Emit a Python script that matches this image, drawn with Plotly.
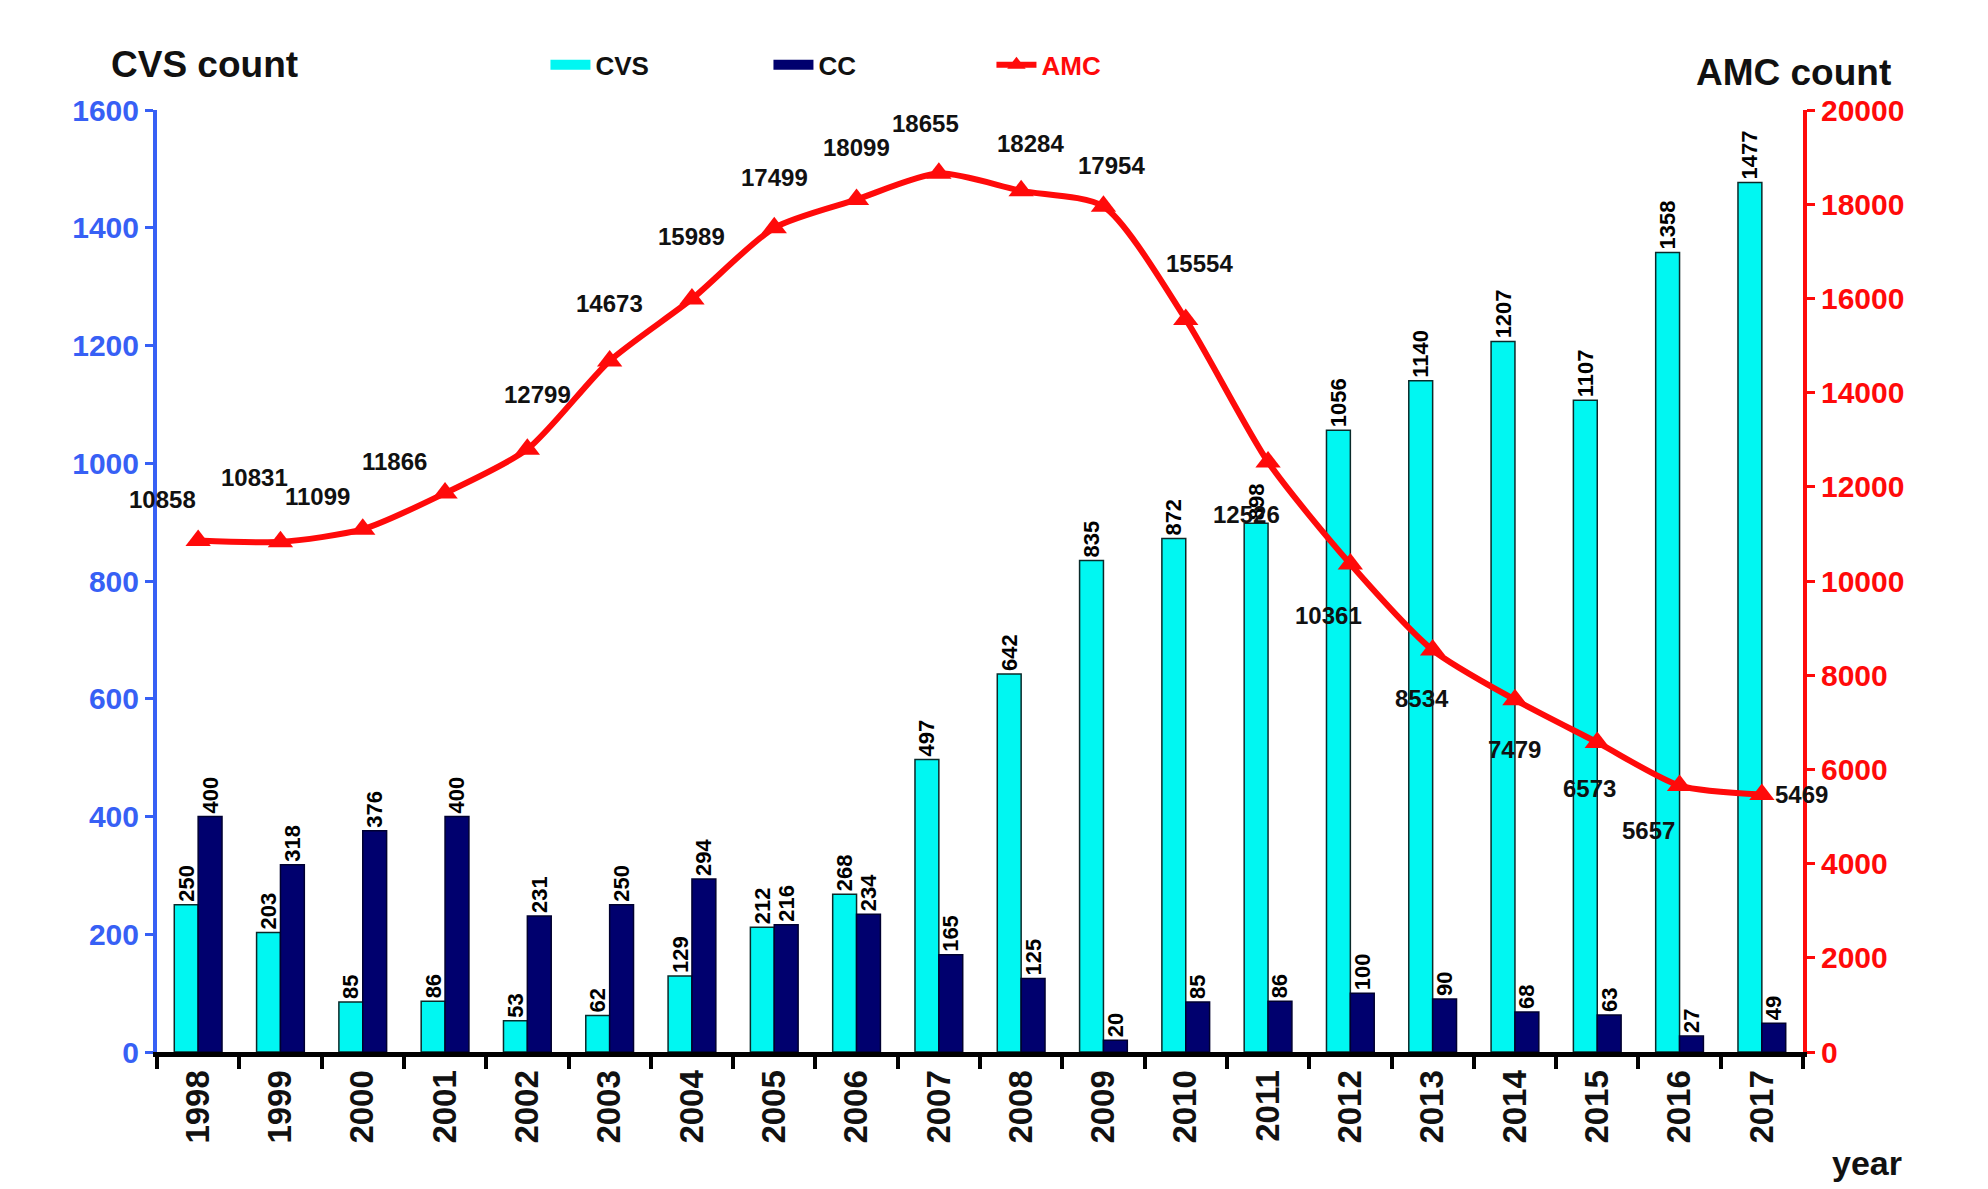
import plotly.graph_objects as go

years = [str(y) for y in range(1998, 2018)]
cvs = [250, 203, 85, 86, 53, 62, 129, 212, 268, 497, 642, 835, 872, 898, 1056, 1140, 1207, 1107, 1358, 1477]
cc = [400, 318, 376, 400, 231, 250, 294, 216, 234, 165, 125, 20, 85, 86, 100, 90, 68, 63, 27, 49]
amc = [10858, 10831, 11099, 11866, 12799, 14673, 15989, 17499, 18099, 18655,
       18284, 17954, 15554, 12526, 10361, 8534, 7479, 6573, 5657, 5469]

# label offsets (pixels) for AMC value labels
amc_dx = [-36, -26, -45, -51, 10, 0, 0, 0, 0, -13, 9, 8, 14, -22, -22, -11, 0, -8, -31, 40]
amc_dy = [41, 64, 33, 32, 55, 57, 62, 50, 52, 50, 47, 41, 56, -52, -51, -48, -50, -46, -45, 0]

FONT = "Arial, Liberation Sans, sans-serif"
BLUE = "#3760F5"
RED = "#FF0A0A"
CYAN = "#00F7F2"
NAVY = "#00006E"

fig = go.Figure()

fig.add_trace(go.Bar(
    x=years, y=cvs, name="CVS", showlegend=False,
    marker=dict(color=CYAN, line=dict(color="#0A2A2A", width=1.5)),
    text=cvs, textposition="outside", textangle=-90,
    textfont=dict(family=FONT, size=22, color="black", weight="bold"),
    cliponaxis=False, constraintext="none",
))
fig.add_trace(go.Bar(
    x=years, y=cc, name="CC", showlegend=False,
    marker=dict(color=NAVY, line=dict(color="#000030", width=1.5)),
    text=cc, textposition="outside", textangle=-90,
    textfont=dict(family=FONT, size=22, color="black", weight="bold"),
    cliponaxis=False, constraintext="none",
))
fig.add_trace(go.Scatter(
    x=years, y=amc, name="<span style='color:#FF0A0A'>AMC</span>", yaxis="y2",
    mode="lines+markers",
    line=dict(color=RED, width=6, shape="spline", smoothing=0.7),
    marker=dict(symbol="triangle-up", size=22, color=RED),
    cliponaxis=False, legendrank=3,
))
# legend swatches for the bar series (wide rectangles)
fig.add_trace(go.Scatter(x=[None], y=[None], mode="lines", name="CVS",
                         line=dict(color=CYAN, width=16), legendrank=1))
fig.add_trace(go.Scatter(x=[None], y=[None], mode="lines", name="CC",
                         line=dict(color=NAVY, width=16), legendrank=2))

for i, (v, dx, dy) in enumerate(zip(amc, amc_dx, amc_dy)):
    fig.add_annotation(x=i, y=v, yref="y2", xref="x", text=str(v), showarrow=False,
                       xshift=dx, yshift=dy,
                       font=dict(family=FONT, size=24, color="#111111", weight="bold"))

fig.add_annotation(xref="paper", yref="paper", x=0.029, y=1.048, text="CVS count", showarrow=False,
                   xanchor="center", yanchor="middle",
                   font=dict(family=FONT, size=37, color="#111111", weight="bold"))
fig.add_annotation(xref="paper", yref="paper", x=0.994, y=1.040, text="AMC count", showarrow=False,
                   xanchor="center", yanchor="middle",
                   font=dict(family=FONT, size=37, color="#111111", weight="bold"))
fig.add_annotation(xref="paper", yref="paper", x=1.039, y=-0.118, text="year", showarrow=False,
                   xanchor="center", yanchor="middle",
                   font=dict(family=FONT, size=34, color="#111111", weight="bold"))

boundaries = [i - 0.5 for i in range(len(years) + 1)]

fig.update_layout(
    width=1988, height=1189,
    margin=dict(l=149, r=193, t=102, b=145),
    plot_bgcolor="white", paper_bgcolor="white",
    barmode="group", bargap=0.42, bargroupgap=0.0,
    font=dict(family=FONT),
    showlegend=True,
    legend=dict(orientation="h", x=0.236, y=1.048, xanchor="left", yanchor="middle",
                entrywidth=168, entrywidthmode="pixels", traceorder="normal",
                font=dict(family=FONT, size=26, color="#111111", weight="bold"),
                bgcolor="rgba(0,0,0,0)", itemwidth=40),
    xaxis=dict(type="category", range=[-0.5, 19.5], autorange=False,
               showline=True, linecolor="black", linewidth=5,
               ticks="outside", tickson="boundaries", ticklen=12, tickwidth=4, tickcolor="black",
               tickangle=-90, showgrid=False, zeroline=False,
               tickfont=dict(family=FONT, size=33, color="#111111", weight="bold")),
    xaxis2=dict(type="linear", range=[-0.5, 19.5], autorange=False, overlaying="x",
                anchor="y", side="bottom", showline=False,
                tickmode="array", tickvals=boundaries, showticklabels=False,
                ticks="inside", ticklen=10, tickwidth=4, tickcolor="black",
                showgrid=False, zeroline=False),
    yaxis=dict(range=[0, 1600], dtick=200, showline=True, linecolor=BLUE, linewidth=4,
               ticks="outside", ticklen=8, tickwidth=3, tickcolor=BLUE,
               showgrid=False, zeroline=False,
               tickfont=dict(family=FONT, size=30, color=BLUE, weight="bold")),
    yaxis2=dict(range=[0, 20000], dtick=2000, overlaying="y", side="right",
                showline=True, linecolor=RED, linewidth=4,
                ticks="outside", ticklen=8, tickwidth=3, tickcolor=RED,
                showgrid=False, zeroline=False, tickformat="d",
                tickfont=dict(family=FONT, size=30, color=RED, weight="bold")),
)

fig.write_html("out.html")
